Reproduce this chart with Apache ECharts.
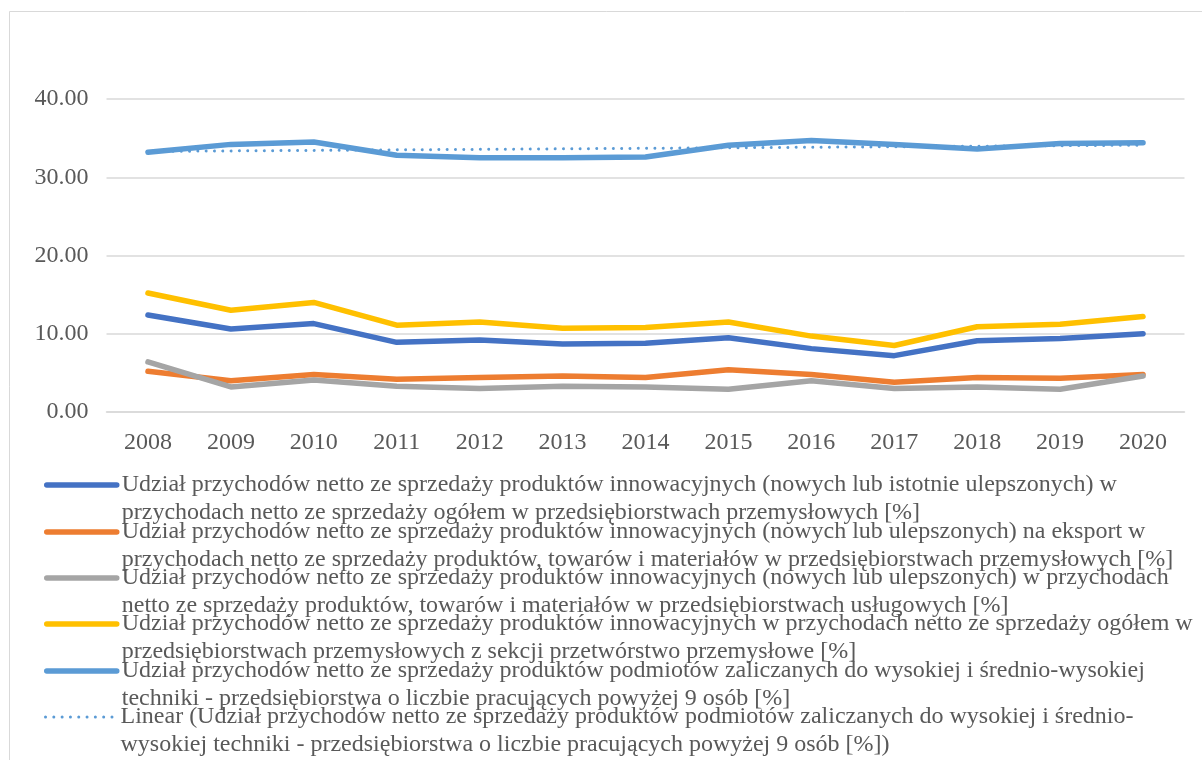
<!DOCTYPE html>
<html>
<head>
<meta charset="utf-8">
<script src="https://cdn.jsdelivr.net/npm/echarts@6/dist/echarts.min.js"></script>
<style>
  html, body { margin: 0; padding: 0; background: #fff; }
  #chart { width: 1202px; height: 760px; }
</style>
</head>
<body>
<div id="chart"></div>
<script>
// dane
var years = ['2008','2009','2010','2011','2012','2013','2014','2015','2016','2017','2018','2019','2020'];
var przemysl = [12.4, 10.6, 11.3, 8.9, 9.2, 8.7, 8.8, 9.5, 8.1, 7.2, 9.1, 9.4, 10.0];
var eksport = [5.2, 4.0, 4.8, 4.2, 4.4, 4.6, 4.4, 5.4, 4.8, 3.8, 4.4, 4.3, 4.8];
var uslugi = [6.4, 3.2, 4.1, 3.3, 3.0, 3.3, 3.2, 2.9, 4.0, 3.0, 3.2, 2.9, 4.6];
var przetworstwo = [15.2, 13.0, 14.0, 11.1, 11.5, 10.7, 10.8, 11.5, 9.7, 8.5, 10.9, 11.2, 12.2];
var technika = [33.2, 34.2, 34.5, 32.8, 32.5, 32.5, 32.6, 34.1, 34.7, 34.2, 33.6, 34.3, 34.4];
// linia trendu - tylko końce
var trend = [33.3, null, null, null, null, null, null, null, null, null, null, null, 34.1];

var names = [
  'Udział przychodów netto ze sprzedaży produktów innowacyjnych (nowych lub istotnie ulepszonych) w\nprzychodach netto ze sprzedaży ogółem w przedsiębiorstwach przemysłowych [%]',
  'Udział przychodów netto ze sprzedaży produktów innowacyjnych (nowych lub ulepszonych) na eksport w\nprzychodach netto ze sprzedaży produktów, towarów i materiałów w przedsiębiorstwach przemysłowych [%]',
  'Udział przychodów netto ze sprzedaży produktów innowacyjnych (nowych lub ulepszonych) w przychodach\nnetto ze sprzedaży produktów, towarów i materiałów w przedsiębiorstwach usługowych [%]',
  'Udział przychodów netto ze sprzedaży produktów innowacyjnych w przychodach netto ze sprzedaży ogółem w\nprzedsiębiorstwach przemysłowych z sekcji przetwórstwo przemysłowe [%]',
  'Udział przychodów netto ze sprzedaży produktów podmiotów zaliczanych do wysokiej i średnio-wysokiej\ntechniki - przedsiębiorstwa o liczbie pracujących powyżej 9 osób [%]',
  'Linear (Udział przychodów netto ze sprzedaży produktów podmiotów zaliczanych do wysokiej i średnio-\nwysokiej techniki - przedsiębiorstwa o liczbie pracujących powyżej 9 osób [%])'
];
var colors = ['#4472C4', '#ED7D31', '#A5A5A5', '#FFC000', '#5B9BD5', '#5B9BD5'];
var values = [przemysl, eksport, uslugi, przetworstwo, technika, trend];

var font = '"Liberation Serif", "Times New Roman", serif';

var series = values.map(function (d, i) {
  var isTrend = i === 5;
  return {
    name: names[i],
    type: 'line',
    data: d,
    symbol: 'none',
    connectNulls: true,
    z: 2 + i,
    lineStyle: {
      color: colors[i],
      width: isTrend ? 3 : 5.5,
      type: isTrend ? [0.01, 8.3] : 'solid',
      cap: 'round',
      join: 'round'
    },
    itemStyle: { color: colors[i] }
  };
});

// osobna legenda dla każdej pozycji, żeby ikona stała przy pierwszej linii
var legendLH = 28;
var legendTops = [485, 532, 578, 624, 671, 717];
var legends = names.map(function (n, i) {
  var isTrend = i === 5;
  return {
    data: [n],
    left: 44,
    top: legendTops[i] - 1.5 * legendLH,
    orient: 'vertical',
    padding: 0,
    itemWidth: 70,
    itemHeight: 2,
    selectedMode: false,
    itemStyle: { opacity: 0 },
    lineStyle: {
      width: isTrend ? 3 : 5.5,
      cap: 'round'
    },
    // pusta pierwsza linia, aby ikona wypadła na wysokości pierwszego wiersza tekstu
    formatter: function (name) { return '\u00a0\n' + name; },
    textStyle: {
      fontFamily: font,
      fontSize: 24,
      color: '#595959',
      lineHeight: legendLH
    }
  };
});

var chart = echarts.init(document.getElementById('chart'));
chart.setOption({
  animation: false,
  backgroundColor: '#fff',
  graphic: [{
    type: 'rect',
    shape: { x: 9.5, y: 11.5, width: 1400, height: 1000 },
    style: { fill: 'none', stroke: '#d9d9d9', lineWidth: 1 },
    silent: true,
    z: -1
  }],
  grid: {
    left: 106.5,
    right: 17.5,
    top: 99,
    bottom: 348
  },
  legend: legends,
  xAxis: {
    type: 'category',
    data: years,
    boundaryGap: true,
    axisLine: { show: true, lineStyle: { color: '#d9d9d9', width: 1.5 } },
    axisTick: { show: false },
    axisLabel: {
      fontFamily: font,
      fontSize: 24,
      color: '#595959',
      margin: 19
    }
  },
  yAxis: {
    type: 'value',
    min: 0,
    max: 40,
    interval: 10,
    axisLine: { show: false },
    axisTick: { show: false },
    splitLine: { lineStyle: { color: '#d9d9d9', width: 1.5 } },
    axisLabel: {
      fontFamily: font,
      fontSize: 24,
      color: '#595959',
      margin: 18,
      formatter: function (v) { return v.toFixed(2); }
    }
  },
  series: series
});
</script>
</body>
</html>
